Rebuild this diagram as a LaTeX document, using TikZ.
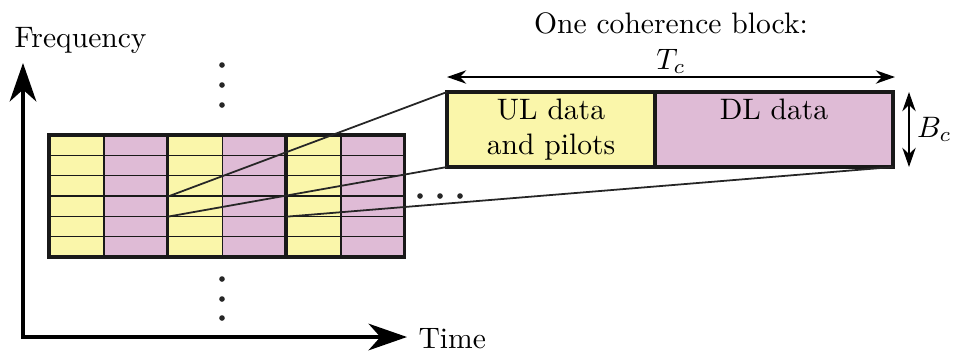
\documentclass[tikz,border=0pt]{standalone}
\usetikzlibrary{arrows.meta, positioning, calc}
\definecolor{ulyellow}{RGB}{250,246,170}
\definecolor{dlpink}{RGB}{223,187,214}
\def\px{0.338pt}
\tikzset{
  cell/.style={draw=black!90, line width=0.55pt},
  frame/.style={draw=black!90, line width=1.2pt},
  zoomline/.style={draw=black!85, line width=0.6pt},
  axis/.style={-{Stealth[length=13pt,width=9pt,inset=4pt]}, line width=1.25pt},
  dimarrow/.style={{Stealth[length=6.5pt,width=4.5pt]}-{Stealth[length=6.5pt,width=4.5pt]}, line width=0.8pt},
  bigbox/.style={draw=black!90, line width=1.2pt, minimum height=75*\px, inner sep=0pt, outer sep=0pt, align=center},
  ulbox/.style={bigbox, fill=ulyellow, minimum width=208*\px},
  dlbox/.style={bigbox, fill=dlpink, minimum width=238*\px},
  dot/.style={circle, fill=black!85, inner sep=0pt, minimum size=1.9pt}
}
\begin{document}
\begin{tikzpicture}[x=0.338pt, y=-0.338pt]
\useasboundingbox (0,0) rectangle (955,353);

% Time-frequency grid of coherence blocks
\foreach \b in {0,1,2} {
  \pgfmathsetmacro{\xa}{49+118.5*\b}
  \pgfmathsetmacro{\xb}{\xa+55}
  \pgfmathsetmacro{\xc}{\xa+118.5}
  \foreach \r in {0,...,5} {
    \pgfmathsetmacro{\ya}{135+20.33*\r}
    \pgfmathsetmacro{\yb}{\ya+20.33}
    \filldraw[cell, fill=ulyellow] (\xa,\ya) rectangle (\xb,\yb);
    \filldraw[cell, fill=dlpink] (\xb,\ya) rectangle (\xc,\yb);
  }
  \draw[frame] (\xa,135) rectangle (\xc,257);
}

\coordinate (g1) at (167.5,196.7);
\coordinate (g2) at (167.5,216.7);
\coordinate (g3) at (286,216.7);

% Zoomed coherence block
\node[ulbox] (ul) at (551,129.5) {UL data\\and pilots};
\node[dlbox, right=0pt of ul] (dl) {DL data\\\vphantom{and pilots}};

\draw[zoomline] (g1) -- (ul.north west);
\draw[zoomline] (g2) -- (ul.south west);
\draw[zoomline] (g3) -- (dl.south east);

\draw[dimarrow] ([yshift=15*\px]ul.north west) -- ([yshift=15*\px, xshift=2*\px]dl.north east)
  node[midway, above=-2.7pt] (tc) {$T_c$};
\node[above=-2pt of tc] (title) {One coherence block:};
\draw[dimarrow] ([xshift=16*\px]dl.north east) -- ([xshift=16*\px]dl.south east)
  node[midway, right=-1pt] (bc) {$B_c$};

% Dots
\foreach \y in {65,85,105} \node[dot] at (222,\y) {};
\foreach \y in {279,299,318} \node[dot] at (222,\y) {};
\foreach \x in {420,440,460} \node[dot] at (\x,196) {};

% Axes
\coordinate (origin) at (23,337);
\coordinate (ftip) at (23,63);
\coordinate (ttip) at (407,337);
\draw[axis] ([yshift=-0.62pt]origin) -- (ftip);
\draw[axis] ([xshift=-0.62pt]origin) -- (ttip);
\node[anchor=base west, inner sep=0pt] (freq) at (14,47) {Frequency};
\node[anchor=base west, inner sep=0pt] (time) at (418,348) {Time};
\end{tikzpicture}
\end{document}
